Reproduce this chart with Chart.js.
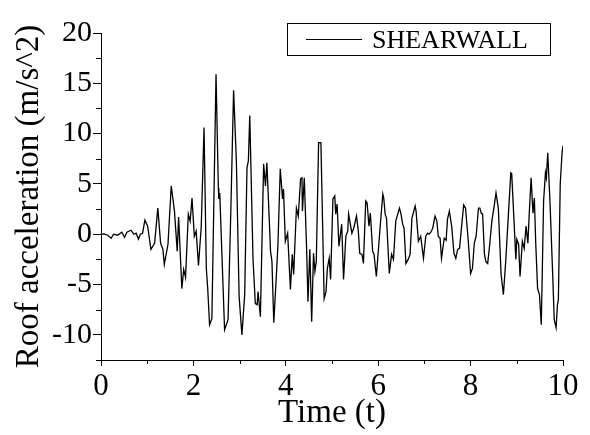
<!DOCTYPE html>
<html>
<head>
<meta charset="utf-8">
<script src="https://cdn.jsdelivr.net/npm/chart.js@4.4.0/dist/chart.umd.min.js"></script>
<style>
    body { margin: 0; background: #fff; }
    #wrap { width: 590px; height: 435px; }
</style>
</head>
<body>
<div id="wrap"><canvas id="accelChart" width="590" height="435"></canvas></div>
<script>
//////////////////////* Data *////////////////////////////
let seriesName = "SHEARWALL";

let timeValues = [
    0, 0.07, 0.145, 0.22, 0.27, 0.36, 0.45, 0.51, 0.56, 0.65,
    0.71, 0.76, 0.81, 0.85, 0.90, 0.95, 1.01, 1.08, 1.16, 1.23,
    1.29, 1.34, 1.37, 1.45, 1.52, 1.59, 1.65, 1.68, 1.75, 1.79,
    1.83, 1.89, 1.93, 1.97, 2.02, 2.06, 2.11, 2.17, 2.23, 2.28,
    2.31, 2.35, 2.40, 2.49, 2.54, 2.55, 2.57, 2.675, 2.75, 2.81,
    2.87, 2.93, 2.99, 3.05, 3.11, 3.16, 3.19, 3.22, 3.29, 3.34,
    3.38, 3.40, 3.45, 3.52, 3.56, 3.59, 3.61, 3.67, 3.70, 3.74,
    3.80, 3.83, 3.88, 3.93, 3.95, 3.99, 4.04, 4.10, 4.14, 4.17,
    4.23, 4.27, 4.32, 4.35, 4.36, 4.40, 4.45, 4.48, 4.52, 4.56,
    4.60, 4.63, 4.66, 4.71, 4.76, 4.83, 4.87, 4.90, 4.94, 4.97,
    5.02, 5.06, 5.08, 5.11, 5.15, 5.21, 5.25, 5.30, 5.34, 5.36,
    5.43, 5.47, 5.53, 5.57, 5.60, 5.65, 5.68, 5.73, 5.76, 5.80,
    5.83, 5.88, 5.91, 5.96, 6.04, 6.10, 6.12, 6.15, 6.18, 6.24,
    6.29, 6.33, 6.38, 6.46, 6.49, 6.53, 6.56, 6.60, 6.65, 6.69,
    6.73, 6.80, 6.82, 6.87, 6.92, 6.98, 7.03, 7.07, 7.10, 7.14,
    7.18, 7.23, 7.27, 7.30, 7.34, 7.37, 7.43, 7.47, 7.50, 7.54,
    7.59, 7.64, 7.68, 7.72, 7.76, 7.81, 7.85, 7.89, 7.95, 8.00,
    8.04, 8.08, 8.12, 8.17, 8.20, 8.23, 8.26, 8.30, 8.33, 8.37,
    8.41, 8.46, 8.51, 8.55, 8.60, 8.66, 8.71, 8.76, 8.82, 8.87,
    8.89, 8.94, 8.98, 9.00, 9.04, 9.07, 9.12, 9.16, 9.20, 9.24,
    9.27, 9.31, 9.35, 9.38, 9.41, 9.45, 9.49, 9.53, 9.58, 9.62,
    9.64, 9.67, 9.72, 9.78, 9.81, 9.85, 9.88, 9.90, 9.94, 9.98, 10.0
];

let accelValues = [
    0, 0.03, -0.1, -0.4, 0, -0.1, 0.2, -0.3, 0.2, 0.4,
    0, 0.1, -0.5, 0, 0.1, 1.4, 0.8, -1.5, -0.9, 2.6,
    -0.9, -1.5, -3.0, -1.0, 4.8, 2.3, -1.7, 1.7, -5.4, -3.5,
    -4.3, 2.0, 1.3, 3.6, -0.2, 0.3, -3.1, 0.8, 10.6, -3.4,
    -5.4, -9.0, -8.4, 15.9, 4.6, 3.5, 4.1, -9.5, -8.5, 2.3,
    14.3, 7.3, -6.2, -10.0, -6.0, 6.6, 7.3, 11.8, -2.4, -6.9,
    -7.0, -5.7, -8.2, 7.0, 4.8, 7.1, 5.0, -1.7, -2.7, -8.8,
    -3.7, -1.0, 6.5, 3.5, 4.5, -0.7, 0.1, -5.5, -2.0, -4.0,
    2.6, 1.8, 5.5, 5.6, 2.3, 5.6, -1.4, -6.7, -1.5, -8.7,
    -1.9, -3.7, -2.7, 9.1, 9.1, -6.4, -5.7, -3.4, -2.4, -4.5,
    3.5, 3.8, 2.0, 3.0, -1.2, 1.0, -4.5, -0.2, 0.3, 2.0,
    0.1, 0.6, 1.8, 0.3, -1.9, -2.0, -2.9, 3.3, 3.1, 0.8,
    2.1, -1.7, -2.0, -4.2, 0.6, 4.0, 3.6, 2.0, 1.6, -3.9,
    -2.0, -2.5, 1.3, 2.6, 2.1, 1.0, 0.6, -2.9, -2.5, -2.0,
    1.6, 2.8, 2.3, -0.7, -0.2, -2.4, -0.2, 0.1, 0, 0.2,
    0.6, 1.8, 1.3, -0.2, -0.4, -2.4, -0.4, -0.6, 1.5, 2.3,
    0.8, -1.9, -2.4, -1.5, -1.4, 1.0, 2.9, 2.6, -0.7, -3.9,
    -3.4, -0.9, -0.2, 2.6, 2.6, 2.1, 2.0, -2.0, -2.7, -2.9,
    -1.2, 1.3, 2.8, 4.1, 2.6, -4.0, -6.0, -2.7, 2.1, 6.1,
    6.0, 1.3, -2.5, -0.5, -1.0, -4.2, -0.7, -1.4, 0.8, -0.9,
    2.1, 5.6, 2.1, 3.6, -0.9, -5.4, -6.0, -9.0, 3.3, 6.1,
    5.6, 8.1, 3.0, -4.4, -8.5, -9.3, -7.0, -6.5, 5.0, 8.1, 8.8
];

// axis ticks
let xMajorTicks = [0, 2, 4, 6, 8, 10];
let xMinorTicks = [1, 3, 5, 7, 9];
let yMajorTicks = [-10, -5, 0, 5, 10, 15, 20];
let yMinorTicks = [-12.5, -7.5, -2.5, 2.5, 7.5, 12.5, 17.5];

let serifFont = "'Liberation Serif', 'Times New Roman', serif";
let inkColor = "#000";

//////////////////////* Minor ticks + boxed legend *////////////////////////////
let extrasPlugin = {
    id: "extras",
    afterDraw: function (chart) {
        let ctx = chart.ctx;
        let xs = chart.scales.x;
        let ys = chart.scales.y;
        let area = chart.chartArea;
        ctx.save();
        ctx.strokeStyle = inkColor;
        ctx.lineWidth = 1;
        ctx.beginPath();
        xMinorTicks.forEach(function (v) {
            let px = Math.round(xs.getPixelForValue(v)) + 0.5;
            ctx.moveTo(px, area.bottom);
            ctx.lineTo(px, area.bottom + 4);
        });
        yMinorTicks.forEach(function (v) {
            let py = Math.round(ys.getPixelForValue(v)) + 0.5;
            ctx.moveTo(area.left, py);
            ctx.lineTo(area.left - 5, py);
        });
        ctx.stroke();

        // legend box
        ctx.lineWidth = 1;
        ctx.strokeRect(287.5, 23.5, 263, 32);
        ctx.beginPath();
        ctx.moveTo(306, 39.5);
        ctx.lineTo(362, 39.5);
        ctx.lineWidth = 1.2;
        ctx.stroke();
        ctx.fillStyle = inkColor;
        ctx.font = "26px " + serifFont;
        ctx.textBaseline = "alphabetic";
        ctx.textAlign = "left";
        ctx.fillText(seriesName, 372, 48);
        ctx.restore();
    }
};

//////////////////////* Line Chart *////////////////////////////
function accelLineChart() {
    let ctx = document.getElementById("accelChart");
    let points = timeValues.map(function (t, i) {
        return { x: t, y: accelValues[i] };
    });
    let config = {
        type: "line",
        data: {
            datasets: [
                {
                    label: seriesName,
                    data: points,
                    borderColor: inkColor,
                    borderWidth: 1.3,
                    pointRadius: 0,
                    tension: 0,
                    fill: false,
                },
            ],
        },
        options: {
            responsive: false,
            animation: false,
            layout: {
                autoPadding: false,
                padding: { left: 0, top: 33, right: 27, bottom: 0 },
            },
            plugins: {
                legend: { display: false },
                tooltip: { enabled: false },
            },
            scales: {
                x: {
                    type: "linear",
                    min: 0,
                    max: 10,
                    afterFit: function (scale) { scale.height = 75; },
                    afterBuildTicks: function (scale) {
                        scale.ticks = xMajorTicks.map(function (v) { return { value: v }; });
                    },
                    ticks: {
                        color: inkColor,
                        padding: 2,
                        maxRotation: 0,
                        autoSkip: false,
                        font: { family: serifFont, size: 31 },
                    },
                    grid: {
                        drawOnChartArea: false,
                        tickLength: 6,
                        color: inkColor,
                    },
                    border: { color: inkColor, width: 1 },
                    title: {
                        display: true,
                        text: "Time (t)",
                        color: inkColor,
                        padding: { top: 0, bottom: 2 },
                        font: { family: serifFont, size: 33 },
                    },
                },
                y: {
                    min: -12.5,
                    max: 20,
                    afterFit: function (scale) { scale.width = 101; },
                    afterBuildTicks: function (scale) {
                        scale.ticks = yMajorTicks.map(function (v) { return { value: v }; });
                    },
                    ticks: {
                        color: inkColor,
                        padding: 1,
                        font: { family: serifFont, size: 30 },
                    },
                    grid: {
                        drawOnChartArea: false,
                        tickLength: 8,
                        color: inkColor,
                    },
                    border: { color: inkColor, width: 1 },
                    title: {
                        display: true,
                        text: "Roof acceleration (m/s^2)",
                        color: inkColor,
                        padding: { top: 10, bottom: 0 },
                        font: { family: serifFont, size: 33 },
                    },
                },
            },
        },
        plugins: [extrasPlugin],
    };
    let chart = new Chart(ctx, config);
}

accelLineChart();
</script>
</body>
</html>
